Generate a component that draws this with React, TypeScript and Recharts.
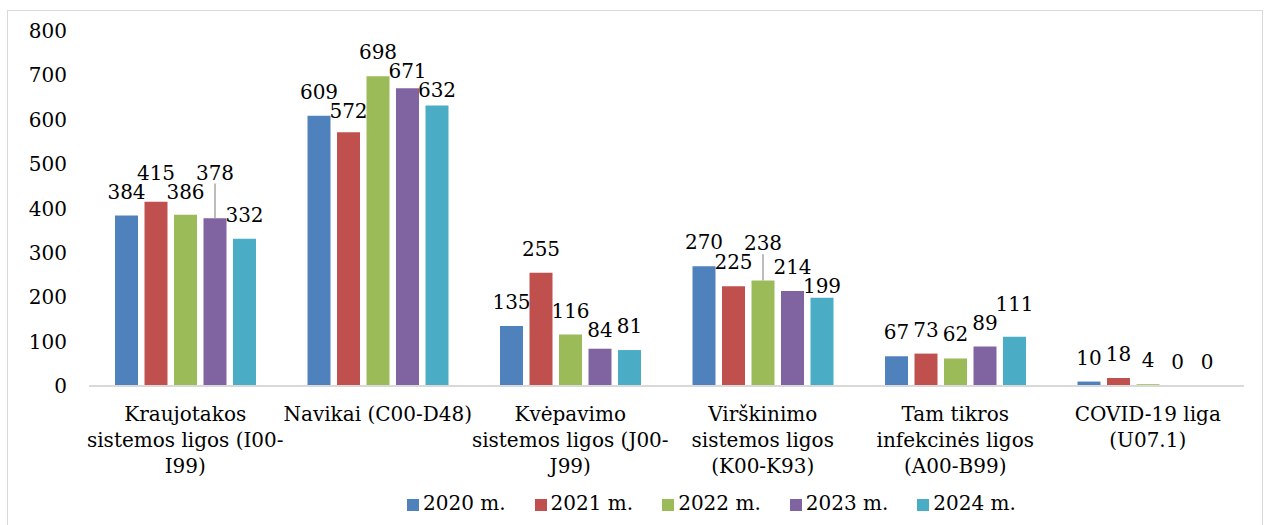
import React from 'react';
import { BarChart, Bar, XAxis, YAxis, Legend, LabelList } from 'recharts';

const categories = [
  'Kraujotakos\nsistemos ligos (I00-\nI99)',
  'Navikai (C00-D48)',
  'Kvėpavimo\nsistemos ligos (J00-\nJ99)',
  'Virškinimo\nsistemos ligos\n(K00-K93)',
  'Tam tikros\ninfekcinės ligos\n(A00-B99)',
  'COVID-19 liga\n(U07.1)',
];
const y2020 = [384, 609, 135, 270, 67, 10];
const y2021 = [415, 572, 255, 225, 73, 18];
const y2022 = [386, 698, 116, 238, 62, 4];
const y2023 = [378, 671, 84, 214, 89, 0];
const y2024 = [332, 632, 81, 199, 111, 0];
const yTicks = [0, 100, 200, 300, 400, 500, 600, 700, 800];

const series = [
  { key: 'y2020', name: '2020 m.', color: '#4F81BD', values: y2020 },
  { key: 'y2021', name: '2021 m.', color: '#C0504D', values: y2021 },
  { key: 'y2022', name: '2022 m.', color: '#9BBB59', values: y2022 },
  { key: 'y2023', name: '2023 m.', color: '#8064A2', values: y2023 },
  { key: 'y2024', name: '2024 m.', color: '#4BACC6', values: y2024 },
];

const data = categories.map((name, i) => ({
  name,
  y2020: y2020[i],
  y2021: y2021[i],
  y2022: y2022[i],
  y2023: y2023[i],
  y2024: y2024[i],
}));

// Times isn't available here, DejaVu Serif is the closest serif
const FONT = "'DejaVu Serif', serif";
const FS = 20;
const PLOT_H = 355;
const Y_MAX = 800;
const BAR_W = 23;
const BAR_GAP = 6.5;
const LABEL_H = 19;
const LABEL_LIFT = 24;
const DIGIT_W = 12.7;

// rough stand-in for Excel's label collision handling:
// walk the series in order, nudge a label up/down when it hits the previous one
function labelCenters(cat: number): number[] {
  const out: number[] = [];
  const pitch = BAR_W + BAR_GAP;
  series.forEach((s, i) => {
    const v = s.values[cat];
    const top = -v * (PLOT_H / Y_MAX);
    let cy = top - LABEL_LIFT;
    if (i > 0) {
      const pv = series[i - 1].values[cat];
      const wPrev = String(pv).length * DIGIT_W;
      const wCur = String(v).length * DIGIT_W;
      const prev = out[i - 1];
      const hOverlap = (wPrev + wCur) / 2 > pitch;
      if (hOverlap && Math.abs(cy - prev) < LABEL_H) {
        const down = prev + LABEL_H;
        if (cy >= prev && down <= top - 10) cy = down;
        else cy = prev - LABEL_H;
      }
    }
    out.push(cy);
  });
  return out;
}

// all five labels of a category are drawn from the first series' label,
// so the zero values (no bar drawn) still get their "0"
const CategoryLabels = (props: any) => {
  const { x, y, height, index } = props;
  const base = Number(y) + Number(height);
  const x0 = Number(x) + BAR_W / 2;
  const centers = labelCenters(index);
  return (
    <g>
      {series.map((s, j) => {
        const v = s.values[index];
        const cx = x0 + j * (BAR_W + BAR_GAP);
        const top = base - v * (PLOT_H / Y_MAX);
        const cy = base + centers[j];
        const moved = top - LABEL_LIFT - cy > 10;
        return (
          <g key={s.key}>
            {moved && (
              <line x1={cx} y1={top} x2={cx} y2={cy + 11} stroke="#a6a6a6" strokeWidth={1.5} />
            )}
            <text x={cx} y={cy + 7} textAnchor="middle" fontFamily={FONT} fontSize={FS} fill="#000">
              {v}
            </text>
          </g>
        );
      })}
    </g>
  );
};

// multi-line category labels, split on \n
const CategoryTick = (props: any) => {
  const { x, y, payload } = props;
  const lines = String(payload.value).split('\n');
  return (
    <text x={x} y={y} textAnchor="middle" fontFamily={FONT} fontSize={FS} fill="#000">
      {lines.map((line: string, i: number) => (
        <tspan key={i} x={x} dy={i === 0 ? 35 : 26}>
          {line}
        </tspan>
      ))}
    </text>
  );
};

export default function App() {
  return (
    <div style={{ position: 'absolute', left: 0, top: 0, width: 1269, height: 525, background: '#fff', overflow: 'hidden', fontFamily: FONT }}>
      <div style={{ position: 'absolute', left: 7, top: 10, width: 1254, height: 530, border: '1px solid #d9d9d9' }} />
      <BarChart
        width={1269}
        height={525}
        data={data}
        margin={{ top: 31, right: 25, left: 0, bottom: 10 }}
        barSize={BAR_W}
        barGap={BAR_GAP}
        style={{ position: 'absolute', left: 0, top: 0 }}
      >
        <XAxis
          dataKey="name"
          axisLine={{ stroke: '#d9d9d9', strokeWidth: 2 }}
          tickLine={false}
          tickSize={0}
          tickMargin={0}
          height={102}
          interval={0}
          tick={<CategoryTick />}
        />
        <YAxis
          domain={[0, Y_MAX]}
          ticks={yTicks}
          width={89}
          axisLine={false}
          tickLine={false}
          tickSize={0}
          tickMargin={22}
          tick={{ fontFamily: FONT, fontSize: FS, fill: '#000' }}
        />
        <Legend
          verticalAlign="bottom"
          align="left"
          iconType="square"
          iconSize={12}
          wrapperStyle={{ left: 407, bottom: 8, width: 760, height: 27, lineHeight: '27px', fontFamily: FONT, fontSize: FS }}
          formatter={(value: string) => (
            <span style={{ color: '#000', marginRight: 19 }}>{value}</span>
          )}
        />
        {series.map((s, si) => (
          <Bar key={s.key} dataKey={s.key} name={s.name} fill={s.color} isAnimationActive={false}>
            {si === 0 && <LabelList dataKey={s.key} content={CategoryLabels} />}
          </Bar>
        ))}
      </BarChart>
    </div>
  );
}
